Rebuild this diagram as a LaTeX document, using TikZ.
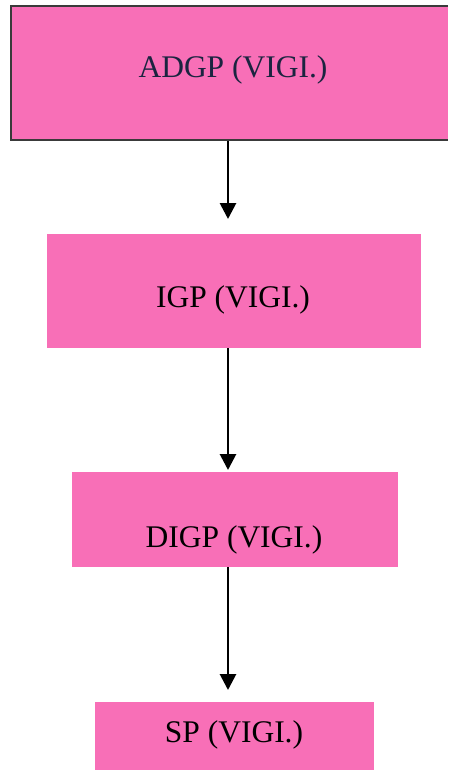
\documentclass[tikz,border=0pt]{standalone}
\usepackage{fontspec}
\setmainfont{Liberation Serif}
\usetikzlibrary{arrows.meta}
\definecolor{boxpink}{HTML}{F86FB7}
\definecolor{navytext}{HTML}{1B2440}
\definecolor{edgegray}{HTML}{3A3A3A}
\tikzset{
  box/.style={fill=boxpink, draw=none, inner sep=0pt, outer sep=0pt},
  lbl/.style={anchor=base, inner sep=0pt, font=\fontsize{31.5}{36}\selectfont},
  arr/.style={line width=2.8pt, -{Triangle[length=16pt, width=16pt]}},
}
\begin{document}
\begin{tikzpicture}[x=1pt, y=-1pt]
\useasboundingbox (0,0) rectangle (448,770);
% boxes
\node[box, minimum width=437pt, minimum height=134pt] (a) at (229.5,73) {};
\draw[edgegray, line width=1.2pt] (a.north east) -- (a.north west) -- (a.south west) -- (a.south east);
\node[box, minimum width=374pt, minimum height=114pt] (b) at (234,291) {};
\node[box, minimum width=326pt, minimum height=95pt] (c) at (235,519.5) {};
\node[box, minimum width=279pt, minimum height=68pt] (d) at (234.5,736) {};
% labels
\node[lbl, text=navytext] (ta) at (233,78) {ADGP (VIGI.)};
\node[lbl] (tb) at (233,307) {IGP (VIGI.)};
\node[lbl] (tc) at (234,547) {DIGP (VIGI.)};
\node[lbl] (td) at (234,742) {SP (VIGI.)};
% arrows
\coordinate (ax) at (228,0);
\draw[arr, shorten <=1.5pt, shorten >=15pt] (a.south -| ax) -- (b.north -| ax);
\draw[arr, shorten >=2pt] (b.south -| ax) -- (c.north -| ax);
\draw[arr, shorten >=12pt] (c.south -| ax) -- (d.north -| ax);
\end{tikzpicture}
\end{document}
